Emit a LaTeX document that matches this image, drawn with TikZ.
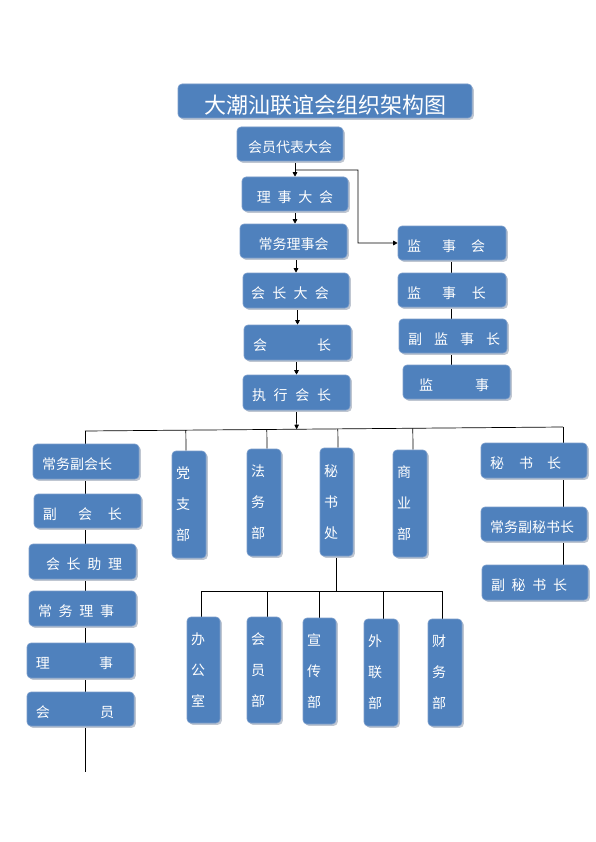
\documentclass[tikz,border=0pt]{standalone}
\usepackage{fontspec}
\newfontfamily\cjk{Noto Sans CJK SC}
\usetikzlibrary{calc,arrows.meta,shadows}
\definecolor{boxblue}{HTML}{4F81BD}
\definecolor{boxedge}{HTML}{7A9CCB}
\definecolor{shadowgray}{HTML}{BFC6D1}
\newcommand\gp[1]{\hspace{#1pt}}
\pgfdeclarelayer{bottom}
\pgfdeclarelayer{lines}
\pgfsetlayers{bottom,lines,main}
\tikzset{
  box/.style={draw=boxedge, line width=0.6pt, fill=boxblue, rounded corners=4pt,
    text=white, font=\cjk\fontsize{14}{16}\selectfont, inner xsep=0pt, inner ysep=0pt,
    align=left, drop shadow={shadow xshift=1.8pt, shadow yshift=-1.8pt, fill=shadowgray, opacity=1}},
  hbox/.style={box, text height=16.6pt, text depth=0pt},
  vbox/.style={box, font=\cjk\fontsize{14}{31}\selectfont, inner xsep=4pt},
  bw/.style={text width=#1},
  bh/.style={minimum height=#1},
  link/.style={draw=black, line width=0.7pt},
  arr/.style={link, -{Triangle[length=4.5pt,width=4.5pt]}},
}
\begin{document}
\begin{tikzpicture}[x=1pt,y=-1pt]
\useasboundingbox (0,0) rectangle (595,842);
\begin{pgfonlayer}{bottom}
  \fill[white] (0,0) rectangle (595,842);
\end{pgfonlayer}

% title
\node[box, bw=294pt, bh=34pt, align=center, font=\cjk\fontsize{22}{26}\selectfont,
      text height=24.8pt, text depth=0pt] (title) at (325,101) {大潮汕联谊会组织架构图};

% centre column
\node[hbox, bw=106pt, bh=34pt, align=center] (hydb) at (290,144) {会员代表大会};
\node[hbox, bw=106pt, bh=34pt, align=center] (lsdh) at (295,194) {理\gp{6.7}事\gp{6.7}大\gp{6.7}会};
\node[hbox, bw=107pt, bh=34pt, align=center] (cwlsh) at (293.5,241) {常务理事会};
\node[hbox, bw=106pt, bh=35pt] (hzdh) at (296,290.5) {\hspace*{8pt}会\gp{7.3}长\gp{7.3}大\gp{7.3}会};
\node[hbox, bw=107pt, bh=35pt] (hz) at (297.5,342.5) {\hspace*{9pt}会\gp{50}长};
\node[hbox, bw=107pt, bh=35pt] (zxhz) at (296.5,392.5) {\hspace*{9pt}执\gp{7.7}行\gp{7.7}会\gp{7.7}长};

% supervisory column
\node[hbox, bw=108pt, bh=34pt] (jsh) at (452,243) {\hspace*{9pt}监\gp{21}事\gp{15}会};
\node[hbox, bw=108pt, bh=34pt] (jsz) at (452,290) {\hspace*{9pt}监\gp{21}事\gp{16}长};
\node[hbox, bw=108pt, bh=34pt] (fjsz) at (453,336) {\hspace*{9pt}副\gp{12}监\gp{12}事\gp{12}长};
\node[hbox, bw=107pt, bh=34pt] (js) at (456.5,382) {\hspace*{16pt}监\gp{42}事};

% left column
\node[hbox, bw=106pt, bh=35pt] (cwfhz) at (86,461.5) {\hspace*{9pt}常务副会长};
\node[hbox, bw=107pt, bh=34pt] (fhz) at (87.5,511) {\hspace*{9pt}副\gp{21}会\gp{16}长};
\node[hbox, bw=107pt, bh=35pt] (hzzl) at (82.5,561.5) {\hspace*{17pt}会\gp{6.7}长\gp{6.7}助\gp{6.7}理};
\node[hbox, bw=107pt, bh=35pt] (cwls) at (82.5,608.5) {\hspace*{9pt}常\gp{6.7}务\gp{6.7}理\gp{6.7}事};
\node[hbox, bw=107pt, bh=35pt] (ls) at (80.5,660.5) {\hspace*{9pt}理\gp{49}事};
\node[hbox, bw=107pt, bh=34pt] (hy) at (80.5,709) {\hspace*{9pt}会\gp{50}员};

% right column
\node[hbox, bw=106pt, bh=35pt] (msz) at (534,460.5) {\hspace*{9pt}秘\gp{15}书\gp{14}长};
\node[hbox, bw=106pt, bh=34pt] (cwfmsz) at (534,524) {\hspace*{9pt}常务副秘书长};
\node[hbox, bw=106pt, bh=35pt] (fmsz) at (535,582.5) {\hspace*{9pt}副\gp{6.7}秘\gp{6.7}书\gp{6.7}长};

% departments
\node[vbox, bw=26pt, bh=107pt] (dzb) at (189,504.5) {党\\支\\部};
\node[vbox, bw=26pt, bh=107pt] (fwb) at (264,502.5) {法\\务\\部};
\node[vbox, bw=25pt, bh=108pt] (msc) at (336.5,502) {秘\\书\\处};
\node[vbox, bw=26pt, bh=107pt] (syb) at (410,503.5) {商\\业\\部};

\node[vbox, bw=25pt, bh=106pt] (bgs) at (203.5,670) {办\\公\\室};
\node[vbox, bw=26pt, bh=106pt] (hyb) at (264,670) {会\\员\\部};
\node[vbox, bw=25pt, bh=106pt] (xcb) at (319.5,671) {宣\\传\\部};
\node[vbox, bw=26pt, bh=107pt] (wlb) at (381,672.5) {外\\联\\部};
\node[vbox, bw=26pt, bh=107pt] (cwb) at (445,672.5) {财\\务\\部};

% coordinates
\coordinate (busL) at (85,431);
\coordinate (busR) at (563,427);
\coordinate (leftend) at (85,772);
\coordinate (brc) at (358,170);
\coordinate (sbL) at (201,591);
\coordinate (sbR) at (442,591);
\coordinate (dzbT) at ($(dzb.north)+(-3,0)$);
\coordinate (fwbT) at ($(fwb.north)+(3,0)$);
\coordinate (mscT) at ($(msc.north)+(1.5,0)$);
\coordinate (sybT) at ($(syb.north)+(3,0)$);
\coordinate (bgsT) at ($(bgs.north)+(-2.5,0)$);
\coordinate (hybT) at ($(hyb.north)+(3,0)$);
\coordinate (xcbT) at ($(xcb.north)+(-0.5,0)$);
\coordinate (wlbT) at ($(wlb.north)+(2,0)$);
\coordinate (cwbT) at ($(cwb.north)+(-3,0)$);
\coordinate (jsX) at ($(jsh.south)+(-1,0)$);

\begin{pgfonlayer}{lines}
  % centre arrows
  \draw[arr] (lsdh.north |- hydb.south) -- (lsdh.north);
  \coordinate (br) at ($(lsdh.north |- hydb.south)!0.56!(lsdh.north)$);
  \draw[arr] (br) -- (brc) |- (jsh.west);
  \draw[arr] (lsdh.south) -- (lsdh.south |- cwlsh.north);
  \draw[arr] (hzdh.north |- cwlsh.south) -- (hzdh.north);
  \draw[arr] (hz.north |- hzdh.south) -- (hz.north);
  \draw[arr] (zxhz.north |- hz.south) -- (zxhz.north);
  \coordinate (zxB) at ($(busL)!(zxhz.south)!(busR)$);
  \draw[arr] (zxhz.south) -- (zxB);
  % bus
  \draw[link] (busL) -- (busR);
  \draw[link] (busL) -- (leftend);
  \draw[link] (busR) -- (busR |- fmsz.north);
  \draw[link] ($(busL)!(dzbT)!(busR)$) -- (dzbT);
  \draw[link] ($(busL)!(fwbT)!(busR)$) -- (fwbT);
  \draw[link] ($(busL)!(mscT)!(busR)$) -- (mscT);
  \draw[link] ($(busL)!(sybT)!(busR)$) -- (sybT);
  % supervisory chain
  \draw[link] (jsX) -- (jsX |- js.north);
  % secretariat sub-bus
  \draw[link] (msc.south) -- (msc.south |- sbL);
  \draw[link] (sbL) -- (sbR);
  \draw[link] (sbL) -- (bgsT);
  \draw[link] (hybT |- sbL) -- (hybT);
  \draw[link] (xcbT |- sbL) -- (xcbT);
  \draw[link] (wlbT |- sbL) -- (wlbT);
  \draw[link] (sbR) -- (cwbT);
\end{pgfonlayer}
\end{tikzpicture}
\end{document}
